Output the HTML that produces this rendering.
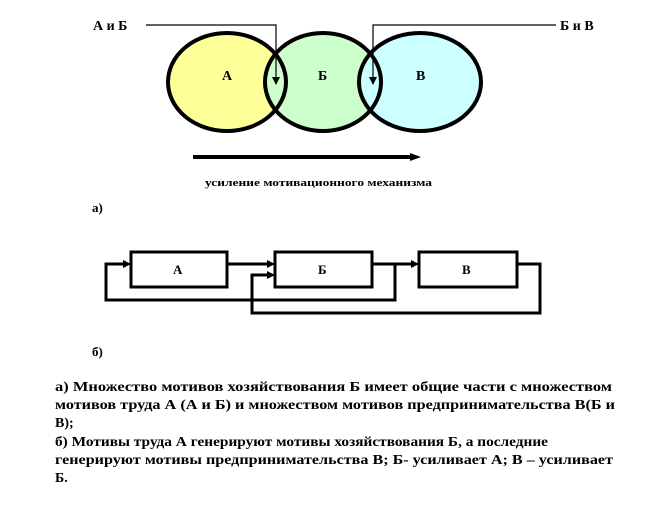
<!DOCTYPE html>
<html><head><meta charset="utf-8"><style>
body{margin:0;background:#fff}
svg{display:block}
text{font-family:"Liberation Serif",serif;font-weight:bold;fill:#000}
</style></head><body>
<svg width="661" height="517" viewBox="0 0 661 517" xmlns="http://www.w3.org/2000/svg">
<defs>
<marker id="ah" markerWidth="8" markerHeight="8" refX="7" refY="4" orient="auto" markerUnits="userSpaceOnUse"><path d="M0,0 L8,4 L0,8 z" fill="#000"/></marker>
</defs>
<ellipse cx="227" cy="82" rx="59" ry="49" fill="#ffff99"/>
<ellipse cx="420" cy="82" rx="61" ry="49" fill="#ccffff"/>
<ellipse cx="323" cy="82" rx="58" ry="49" fill="#ccffcc"/>
<clipPath id="cA"><ellipse cx="227" cy="82" rx="59" ry="49"/></clipPath>
<clipPath id="cC"><ellipse cx="420" cy="82" rx="61" ry="49"/></clipPath>
<ellipse cx="323" cy="82" rx="58" ry="49" fill="#ccffcc" clip-path="url(#cA)"/>
<ellipse cx="323" cy="82" rx="58" ry="49" fill="#ccffff" clip-path="url(#cC)"/>
<g fill="none" stroke="#000" stroke-width="4">
<ellipse cx="227" cy="82" rx="59" ry="49"/>
<ellipse cx="323" cy="82" rx="58" ry="49"/>
<ellipse cx="420" cy="82" rx="61" ry="49"/>
</g>
<text x="222" y="80" font-size="14">А</text>
<text x="318" y="80" font-size="14">Б</text>
<text x="416" y="80" font-size="14">В</text>
<text x="93" y="30" font-size="14">А и Б</text>
<text x="560" y="30" font-size="14">Б и В</text>
<g fill="none" stroke="#000" stroke-width="1.2">
<polyline points="146,25 276,25 276,84" marker-end="url(#ah)"/>
<polyline points="556,25 373,25 373,84" marker-end="url(#ah)"/>
</g>
<line x1="193" y1="157" x2="412" y2="157" stroke="#000" stroke-width="4"/>
<path d="M410,153 L421,157 L410,161 z" fill="#000"/>
<text x="205" y="186" font-size="10" textLength="227" lengthAdjust="spacingAndGlyphs">усиление мотивационного механизма</text>
<text x="92" y="212" font-size="13">а)</text>
<g fill="none" stroke="#000" stroke-width="3">
<rect x="131" y="252" width="96" height="35"/>
<rect x="275" y="252" width="97" height="35"/>
<rect x="419" y="252" width="98" height="35"/>
<polyline points="227,264 268,264"/>
<polyline points="372,264 412,264"/>
<polyline points="372,264 395,264 395,300 106,300 106,264 124,264"/>
<polyline points="517,264 540,264 540,313 252,313 252,275 268,275"/>
</g>
<g fill="#000">
<path d="M131,264 l-8,-4 v8 z"/>
<path d="M275,264 l-8,-4 v8 z"/>
<path d="M275,275 l-8,-4 v8 z"/>
<path d="M419,264 l-8,-4 v8 z"/>
</g>
<text x="173" y="274" font-size="13">А</text>
<text x="318" y="274" font-size="13">Б</text>
<text x="462" y="274" font-size="13">В</text>
<text x="92" y="356" font-size="13">б)</text>
<g font-size="14">
<text x="55" y="391" textLength="557" lengthAdjust="spacingAndGlyphs">а) Множество мотивов хозяйствования Б имеет общие части с множеством</text>
<text x="55" y="409" textLength="560" lengthAdjust="spacingAndGlyphs">мотивов труда А (А и Б) и множеством мотивов предпринимательства В(Б и</text>
<text x="55" y="427">В);</text>
<text x="55" y="446" textLength="493" lengthAdjust="spacingAndGlyphs">б) Мотивы труда А генерируют мотивы хозяйствования Б, а последние</text>
<text x="55" y="464" textLength="558" lengthAdjust="spacingAndGlyphs">генерируют мотивы предпринимательства В; Б- усиливает А; В – усиливает</text>
<text x="55" y="482">Б.</text>
</g>
</svg>
</body></html>
